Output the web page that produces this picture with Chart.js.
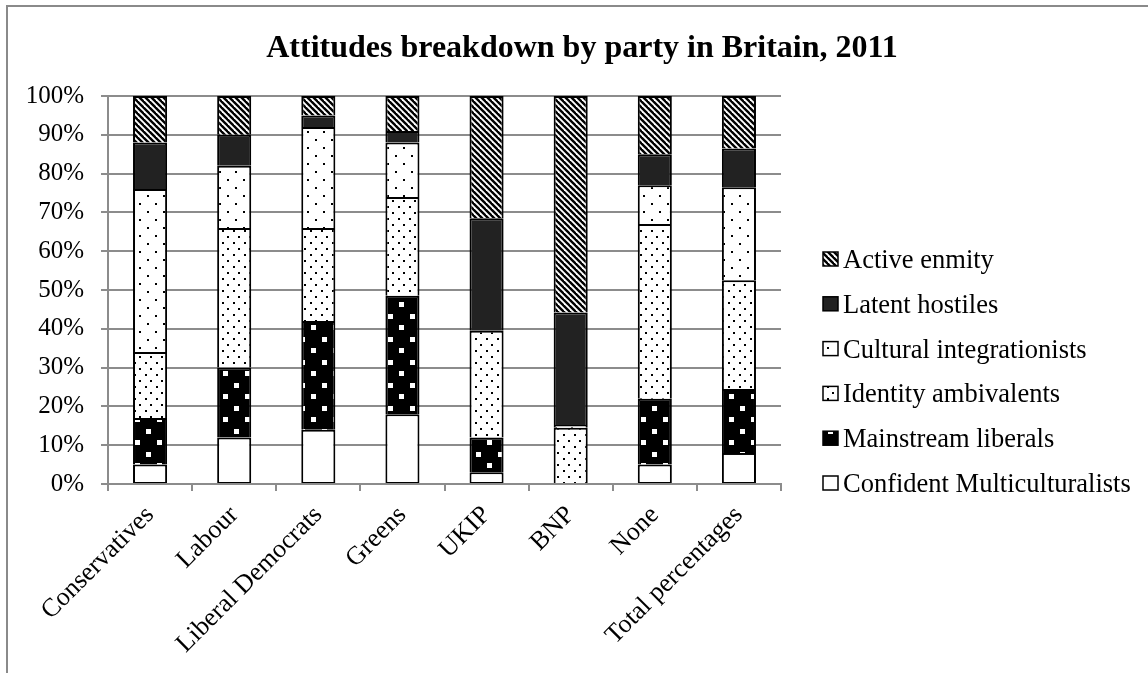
<!DOCTYPE html>
<html><head><meta charset="utf-8">
<script src="https://cdn.jsdelivr.net/npm/chart.js@4.4.0/dist/chart.umd.min.js"></script>
<style>html,body{margin:0;padding:0;background:#fff}canvas{display:block}</style>
</head><body>
<canvas id="c" width="1148" height="673"></canvas>
<script>
const categories = ['Conservatives','Labour','Liberal Democrats','Greens','UKIP','BNP','None','Total percentages'];
const confidentMulticulturalists = [5, 12, 14, 18, 3, 0, 5, 8];
const mainstreamLiberals = [12, 18, 28, 30.5, 9, 0, 17, 16.5];
const identityAmbivalents = [17, 36, 24, 25.5, 27.5, 14.5, 45, 28];
const culturalIntegrationists = [42, 16, 26, 14, 0, 0.7, 10, 24];
const latentHostiles = [12, 8, 3, 3, 29, 29, 8, 10];
const activeEnmity = [12, 10, 5, 9, 31.5, 55.8, 15, 13.5];
const seriesNames = ['Confident Multiculturalists','Mainstream liberals','Identity ambivalents','Cultural integrationists','Latent hostiles','Active enmity'];
const chartTitle = 'Attitudes breakdown by party in Britain, 2011';

function tile(w, h, draw) {
  const c = document.createElement('canvas');
  c.width = w; c.height = h;
  const g = c.getContext('2d');
  draw(g, w, h);
  return document.createElement('canvas').getContext('2d').createPattern(c, 'repeat');
}
const patWhite = '#ffffff';
const patML = tile(22, 23, (g) => {
  g.fillStyle = '#000'; g.fillRect(0, 0, 22, 23);
  g.fillStyle = '#fff'; g.fillRect(3, 3, 5, 5); g.fillRect(14, 15, 5, 5);
});
const patIA = tile(11, 12, (g) => {
  g.fillStyle = '#fff'; g.fillRect(0, 0, 11, 12);
  g.fillStyle = '#000'; g.fillRect(2, 2, 2, 2); g.fillRect(7, 8, 2, 2);
});
const patCI = tile(16, 16, (g) => {
  g.fillStyle = '#fff'; g.fillRect(0, 0, 16, 16);
  g.fillStyle = '#000'; g.fillRect(3, 3, 2, 2); g.fillRect(11, 11, 2, 2);
});
const patLH = '#222222';
const patAE = tile(6, 6, (g) => {
  g.fillStyle = '#fff'; g.fillRect(0, 0, 6, 6);
  g.strokeStyle = '#000'; g.lineWidth = 2.4;
  for (let k = -6; k <= 6; k += 6) {
    g.beginPath(); g.moveTo(k - 1, -1); g.lineTo(k + 7, 7); g.stroke();
  }
});

const seriesData = [confidentMulticulturalists, mainstreamLiberals, identityAmbivalents, culturalIntegrationists, latentHostiles, activeEnmity];
const seriesFill = [patWhite, patML, patIA, patCI, patLH, patAE];

const datasets = seriesNames.map((name, i) => ({
  label: name,
  data: seriesData[i],
  backgroundColor: seriesFill[i],
  borderColor: '#000',
  borderWidth: {left: 2, right: 2, top: 2, bottom: i === 0 ? 1 : 0},
  borderSkipped: false,
  categoryPercentage: 1,
  barPercentage: 0.405
}));

const FONT = 'Liberation Serif';

const decor = {
  id: 'decor',
  beforeDraw(chart) {
    const ctx = chart.ctx;
    ctx.save();
    ctx.fillStyle = '#fff';
    ctx.fillRect(0, 0, chart.width, chart.height);
    ctx.strokeStyle = '#8a8a8a';
    ctx.lineWidth = 2;
    ctx.beginPath();
    ctx.moveTo(7, 673); ctx.lineTo(7, 6); ctx.lineTo(1148, 6);
    ctx.stroke();
    ctx.restore();
  },
  afterDraw(chart) {
    const ctx = chart.ctx;
    ctx.save();
    ctx.fillStyle = '#000';
    ctx.font = 'bold 32px "' + FONT + '"';
    ctx.textAlign = 'center';
    ctx.textBaseline = 'alphabetic';
    ctx.fillText(chartTitle, 582, 57);
    // legend
    ctx.font = '26.5px "' + FONT + '"';
    ctx.textAlign = 'left';
    const n = chart.data.datasets.length;
    for (let j = 0; j < n; j++) {
      const ds = chart.data.datasets[n - 1 - j];
      const base = 268 + j * 44.8;
      ctx.fillStyle = ds.backgroundColor;
      ctx.fillRect(823, base - 16, 15, 14);
      ctx.strokeStyle = '#000';
      ctx.lineWidth = 1.5;
      ctx.strokeRect(823, base - 16, 15, 14);
      ctx.fillStyle = '#000';
      ctx.fillText(ds.label, 843, base);
    }
    ctx.restore();
  }
};

new Chart(document.getElementById('c'), {
  type: 'bar',
  data: { labels: categories, datasets },
  options: {
    responsive: false,
    animation: false,
    devicePixelRatio: 1,
    layout: { padding: { top: 96, left: 0, right: 367, bottom: 0 } },
    plugins: { legend: { display: false }, title: { display: false }, tooltip: { enabled: false } },
    scales: {
      x: {
        stacked: true,
        grid: { drawOnChartArea: false, offset: true, tickLength: 7, color: '#8c8c8c', lineWidth: 2 },
        border: { color: '#8c8c8c', width: 2 },
        ticks: { autoSkip: false, minRotation: 45, maxRotation: 45, color: '#000', padding: 9, font: { family: FONT, size: 26 } },
        afterFit(s) { s.height = 189; }
      },
      y: {
        stacked: true,
        min: 0, max: 100,
        grid: { color: '#8c8c8c', lineWidth: 2, tickLength: 7 },
        border: { color: '#8c8c8c', width: 2 },
        ticks: { stepSize: 10, color: '#000', padding: 17, callback: v => v + '%', font: { family: FONT, size: 25 } },
        afterFit(s) { s.width = 108; }
      }
    }
  },
  plugins: [decor]
});
</script>
</body></html>
